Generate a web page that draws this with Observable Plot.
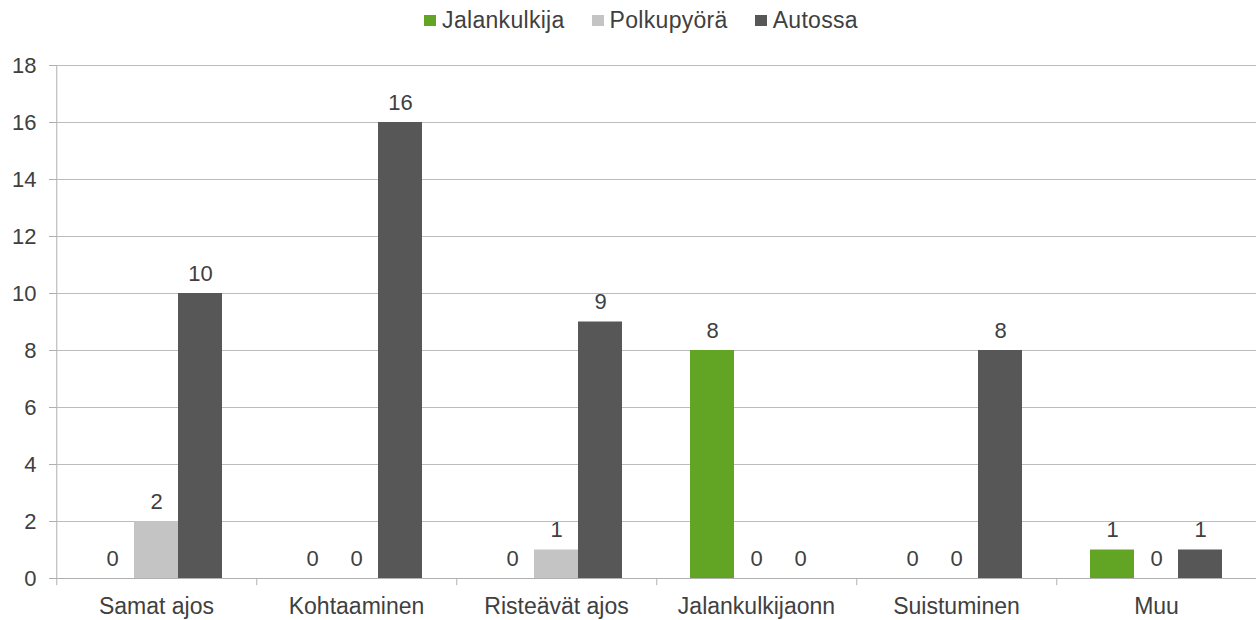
<!DOCTYPE html>
<html>
<head>
<meta charset="utf-8">
<script src="https://cdn.jsdelivr.net/npm/d3@7"></script>
<script src="https://cdn.jsdelivr.net/npm/@observablehq/plot@0.6"></script>
<style>
  html, body { margin: 0; padding: 0; background: #fff; }
  body { width: 1258px; height: 620px; overflow: hidden; font-family: "Liberation Sans", Arial, sans-serif; color: #404040; }
  #legend { height: 40px; display: flex; justify-content: center; align-items: center; font-size: 23px; letter-spacing: 0.3px; padding-left: 24px; padding-top: 1px; box-sizing: border-box; }
  .item { display: flex; align-items: center; margin-right: 27px; }
  .item:last-child { margin-right: 0; }
  .sw { width: 12px; height: 11px; margin-right: 6px; display: inline-block; }
  svg { display: block; }
</style>
</head>
<body>
<div id="legend"></div>
<div id="chart"></div>
<script>
const categories = ["Samat ajos", "Kohtaaminen", "Risteävät ajos", "Jalankulkijaonn", "Suistuminen", "Muu"];
const seriesNames = ["Jalankulkija", "Polkupyörä", "Autossa"];
const jalankulkija = [0, 0, 0, 8, 0, 1];
const polkupyora = [2, 0, 1, 0, 0, 0];
const autossa = [10, 16, 9, 0, 8, 1];
const yTicks = [0, 2, 4, 6, 8, 10, 12, 14, 16, 18];
const colors = ["#62a524", "#c4c4c4", "#575757"];

const seriesValues = [jalankulkija, polkupyora, autossa];
const rows = [];
categories.forEach((c, i) => {
  seriesNames.forEach((s, j) => rows.push({category: c, series: s, value: seriesValues[j][i]}));
});

// legend
const legend = document.getElementById("legend");
seriesNames.forEach((s, j) => {
  const it = document.createElement("span");
  it.className = "item";
  const sw = document.createElement("span");
  sw.className = "sw";
  sw.style.background = colors[j];
  it.appendChild(sw);
  it.appendChild(document.createTextNode(s));
  legend.appendChild(it);
});

const textColor = "#404040";
const gridColor = "#bcbcbc";
const axisColor = "#b0b0b0";

const chart = Plot.plot({
  width: 1258,
  height: 580,
  marginLeft: 54,
  marginRight: 0,
  marginTop: 25,
  marginBottom: 42,
  style: {fontFamily: '"Liberation Sans", Arial, sans-serif', fontSize: "22px", color: textColor, background: "white", overflow: "visible"},
  fx: {domain: categories, padding: 0, label: null},
  x: {domain: seriesNames, paddingInner: 0, paddingOuter: 0.754, axis: null},
  y: {domain: [0, 18], label: null},
  color: {domain: seriesNames, range: colors},
  marks: [
    Plot.gridY(yTicks, {stroke: gridColor, strokeOpacity: 1}),
    Plot.axisY(yTicks, {tickSize: 7, tickPadding: 13, stroke: axisColor, fill: textColor, fontSize: 22, label: null}),
    Plot.barY(rows, {fx: "category", x: "series", y: "value", fill: "series"}),
    Plot.ruleY([0], {stroke: axisColor}),
    Plot.ruleX(categories, {fx: d => d, x: () => seriesNames[0], dx: -55.75, y1: -0.25, y2: d => d === categories[0] ? 18 : 0, stroke: axisColor}),
    Plot.text(rows, {fx: "category", x: "series", y: "value", text: d => String(d.value), dy: -20, fontSize: 22, fill: textColor}),
    Plot.axisFx({anchor: "bottom", tickSize: 0, tickPadding: 19, fontSize: 23, fill: textColor, label: null, style: {letterSpacing: "0.3px"}})
  ]
});
document.getElementById("chart").appendChild(chart);
</script>
</body>
</html>
